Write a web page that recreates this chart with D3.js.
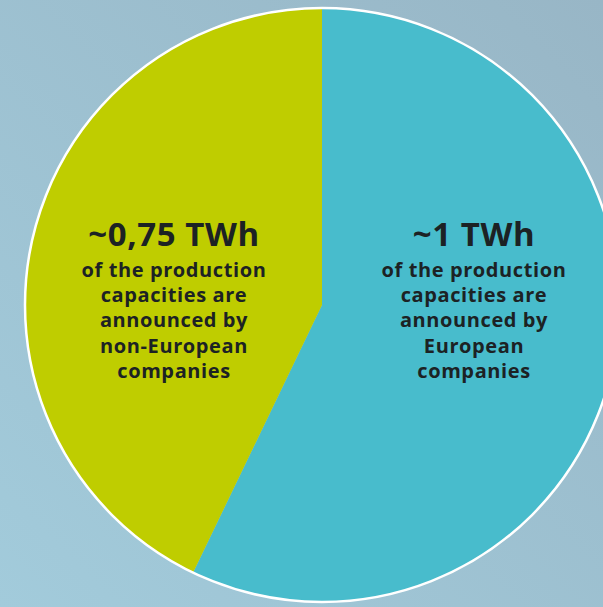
<!DOCTYPE html>
<html>
<head>
<meta charset="utf-8">
<script src="https://cdn.jsdelivr.net/npm/d3@7"></script>
<style>
  html, body { margin: 0; padding: 0; overflow: hidden; }
  svg { display: block; }
</style>
</head>
<body>
<svg id="chart" width="603" height="607"></svg>
<script>
// Announced battery cell production capacities by company origin
const categories = ["European", "non-European"];
const values = [1, 0.75];
const valueLabels = ["~1 TWh", "~0,75 TWh"];
const descriptions = [
  ["of the production", "capacities are", "announced by", "European", "companies"],
  ["of the production", "capacities are", "announced by", "non-European", "companies"]
];
const colors = ["#48bccc", "#bfcd00"];

const width = 603, height = 607;
const cx = 322, cy = 305, radius = 297;

const svg = d3.select("#chart");

// soft blue-grey backdrop
const defs = svg.append("defs");
const grad = defs.append("linearGradient")
  .attr("id", "bg").attr("x1", "1").attr("y1", "0").attr("x2", "0").attr("y2", "1");
grad.append("stop").attr("offset", "0%").attr("stop-color", "#98b6c6");
grad.append("stop").attr("offset", "100%").attr("stop-color", "#a2cbdb");
svg.append("rect").attr("width", width).attr("height", height).attr("fill", "url(#bg)");

const pie = d3.pie().sort(null).value(d => d);
const arcs = pie(values);
const arc = d3.arc().innerRadius(0).outerRadius(radius);

const g = svg.append("g").attr("transform", `translate(${cx},${cy})`);

g.selectAll("path.slice")
  .data(arcs)
  .join("path")
  .attr("class", "slice")
  .attr("d", arc)
  .attr("fill", (d, i) => colors[i]);

// white rim around the whole pie
g.append("circle")
  .attr("r", radius)
  .attr("fill", "none")
  .attr("stroke", "#ffffff")
  .attr("stroke-width", 2.5);

// labels, one column per slice
const labelX = [474, 174];
const text = svg.append("g")
  .attr("font-family", "'Open Sans', 'DejaVu Sans', sans-serif")
  .attr("font-weight", "bold")
  .attr("fill", "#1c2224")
  .attr("text-anchor", "middle");

arcs.forEach((a, i) => {
  const x = labelX[i];
  text.append("text")
    .attr("x", x).attr("y", 246)
    .attr("font-size", 33)
    .attr("letter-spacing", 0.6)
    .text(valueLabels[i]);
  descriptions[i].forEach((line, j) => {
    text.append("text")
      .attr("x", x).attr("y", 277 + j * 25.2)
      .attr("font-size", 20)
      .attr("letter-spacing", 0.6)
      .text(line);
  });
});
</script>
</body>
</html>
